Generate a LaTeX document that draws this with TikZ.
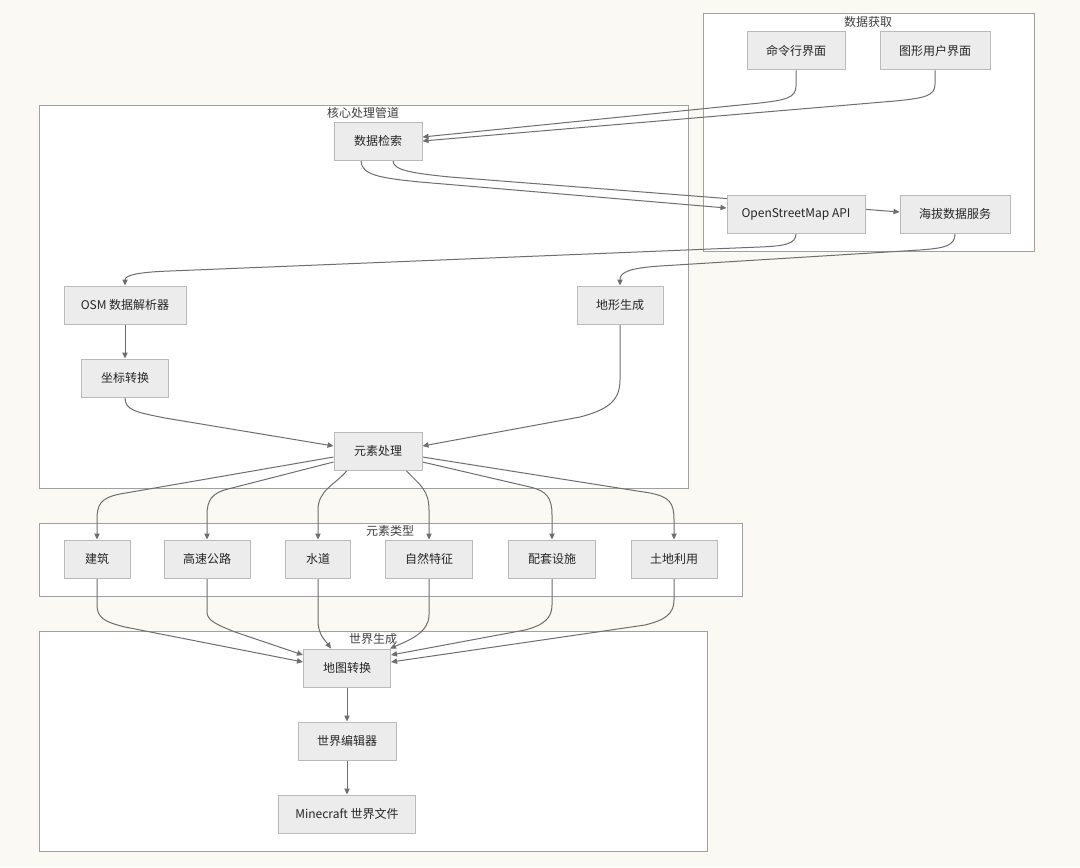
\documentclass[tikz,border=0pt]{standalone}
\usepackage{fontspec}
\setmainfont{Noto Sans CJK SC}
\usetikzlibrary{arrows.meta,calc}
\pgfdeclarelayer{back}
\pgfdeclarelayer{edges}
\pgfsetlayers{back,edges,main}
\definecolor{bgc}{HTML}{FAF9F4}
\definecolor{nodefill}{HTML}{ECECEC}
\definecolor{nodeline}{HTML}{BABABA}
\definecolor{clusterline}{HTML}{A0A0A0}
\definecolor{edgec}{HTML}{6E6E6E}
\tikzset{
  box/.style={draw=nodeline, fill=nodefill, line width=0.75pt, minimum height=38*0.75pt,
    inner sep=0pt, font=\fontsize{9pt}{11pt}\selectfont, text=black!85},
  w/.style={minimum width=#1*0.75pt},
  cluster/.style={draw=clusterline, fill=white, line width=0.75pt},
  clabel/.style={font=\fontsize{9pt}{11pt}\selectfont, text=black!75, inner sep=0pt},
  edge/.style={draw=edgec, line width=0.75pt, -{Triangle[length=4.5pt,width=4pt]}}
}
\begin{document}
\begin{tikzpicture}[x=0.75pt,y=-0.75pt]
\begin{pgfonlayer}{back}
\fill[bgc] (0,0) rectangle (1080,867);
\draw[cluster] (703,14) rectangle (1034,251);
\draw[cluster] (39,105) rectangle (688,488);
\draw[cluster] (39,523) rectangle (742,596);
\draw[cluster] (39,631) rectangle (707,851);
\end{pgfonlayer}
\node[clabel] (lacq) at (868,22) {数据获取};
\node[clabel] (lcore) at (363,113) {核心处理管道};
\node[clabel] (ltype) at (390,531) {元素类型};
\node[clabel] (lworld) at (373,639) {世界生成};

\node[box,w=98] (cli) at (796,51) {命令行界面};
\node[box,w=110] (gui) at (935,51) {图形用户界面};
\node[box,w=138] (osm) at (796,214) {OpenStreetMap API};
\node[box,w=110] (elev) at (955,214) {海拔数据服务};
\node[box,w=88] (dr) at (378,141) {数据检索};
\node[box,w=122] (parser) at (125,305) {OSM 数据解析器};
\node[box,w=86] (terrain) at (620,305) {地形生成};
\node[box,w=87] (coord) at (125,378) {坐标转换};
\node[box,w=88] (ep) at (378,451) {元素处理};
\node[box,w=66] (b1) at (97,559) {建筑};
\node[box,w=86] (b2) at (207,559) {高速公路};
\node[box,w=65] (b3) at (318,559) {水道};
\node[box,w=87] (b4) at (429,559) {自然特征};
\node[box,w=87] (b5) at (552,559) {配套设施};
\node[box,w=86] (b6) at (674,559) {土地利用};
\node[box,w=87] (mc) at (347,668) {地图转换};
\node[box,w=98] (we) at (347,741) {世界编辑器};
\node[box,w=137] (mf) at (347,814) {Minecraft 世界文件};

\begin{pgfonlayer}{edges}
\draw[edge] (cli.south) -- (796,86) .. controls (796,98) and (785,100) .. (760,103) -- ($(dr.east)+(0,-4)$);
\draw[edge] (gui.south) -- (935,84) .. controls (935,96) and (925,98) .. (895,101) -- (dr.east);
\draw[edge] ($(dr.south)+(-17,0)$) .. controls (361,175) and (380,178) .. (420,182) -- ($(osm.west)+(0,-6)$);
\draw[edge] ($(dr.south)+(15,0)$) .. controls (393,170) and (410,173) .. (450,177) -- ($(elev.west)+(0,-2)$);
\draw[edge] (osm.south) .. controls (796,244) and (785,246) .. (760,247) -- (170,271) .. controls (140,272) and (125,275) .. (parser.north);
\draw[edge] (elev.south) .. controls (955,246) and (945,248) .. (920,250) -- (660,266) .. controls (630,268) and (620,272) .. (terrain.north);
\draw[edge] (parser.south) -- (coord.north);
\draw[edge] (coord.south) .. controls (125,410) and (135,412) .. (165,418) -- ($(ep.west)+(0,-5)$);
\draw[edge] (terrain.south) -- (620,380) .. controls (620,402) and (606,410) .. (580,417) -- ($(ep.east)+(0,-5)$);
\draw[edge] ($(ep.west)+(0,6)$) -- (120,494) .. controls (100,498) and (97,505) .. (97,520) -- (b1.north);
\draw[edge] ($(ep.west)+(0,11)$) -- (228,489) .. controls (212,493) and (207,500) .. (207,515) -- (b2.north);
\draw[edge] ($(ep.south)+(-31,0)$) .. controls (335,485) and (318,490) .. (318,510) -- (b3.north);
\draw[edge] ($(ep.south)+(28,0)$) .. controls (420,485) and (429,490) .. (429,510) -- (b4.north);
\draw[edge] ($(ep.east)+(0,11)$) -- (530,487) .. controls (547,491) and (552,498) .. (552,515) -- (b5.north);
\draw[edge] ($(ep.east)+(0,6)$) -- (650,493) .. controls (670,497) and (674,503) .. (674,520) -- (b6.north);
\draw[edge] (b1.south) -- (97,605) .. controls (97,618) and (105,622) .. (125,627) -- ($(mc.west)+(0,-6)$);
\draw[edge] (b2.south) -- (207,612) .. controls (207,620) and (215,624) .. (235,632) -- ($(mc.west)+(0,-13)$);
\draw[edge] (b3.south) -- (318,620) .. controls (318,635) and (325,640) .. ($(mc.north)+(-16,0)$);
\draw[edge] (b4.south) -- (429,615) .. controls (429,632) and (410,640) .. ($(mc.north east)+(-1,0)$);
\draw[edge] (b5.south) -- (552,605) .. controls (552,618) and (544,625) .. (525,630) -- ($(mc.east)+(0,-13)$);
\draw[edge] (b6.south) -- (674,600) .. controls (674,614) and (665,620) .. (645,625) -- ($(mc.east)+(0,-6)$);
\draw[edge] (mc.south) -- (we.north);
\draw[edge] (we.south) -- (mf.north);
\end{pgfonlayer}
\end{tikzpicture}
\end{document}
